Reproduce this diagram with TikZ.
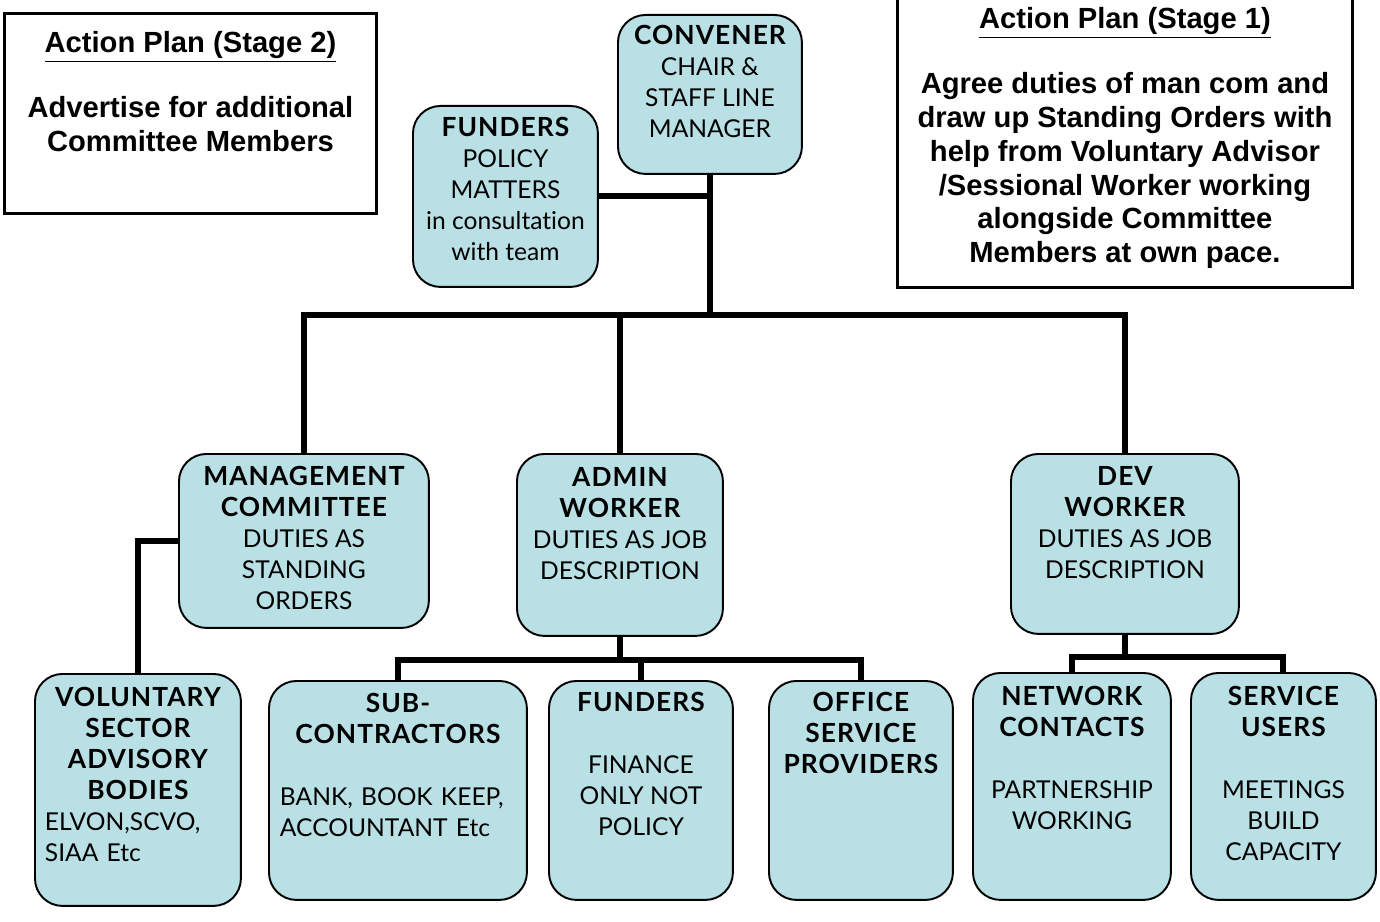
\documentclass[tikz,border=0pt]{standalone}
\usepackage{fontspec}
\setmainfont{Lato}[Ligatures=NoCommon]
\newfontfamily\headfont{Lato}[LetterSpace=4]
\newfontfamily\planfont{Liberation Sans}
\newcommand{\hd}[1]{{\headfont\bfseries\fontsize{15}{17.6}\selectfont #1}}
\newcommand{\lft}[1]{\makebox[\linewidth][l]{#1}}
\usetikzlibrary{positioning}
\definecolor{boxfill}{RGB}{185,224,228}

\begin{document}
\begin{tikzpicture}[x=0.02cm, y=-0.02cm,
		link/.style={line width=3.4pt},
		unit/.style={draw, line width=1.1pt, fill=boxfill, rounded corners=0.55cm, anchor=north west, inner sep=0pt},
		plan/.style={draw, line width=1.7pt, anchor=north west, inner sep=0pt},
		txt/.style={align=center, inner sep=0pt, font=\fontsize{14}{17.6}\selectfont},
		plantxt/.style={align=center, inner sep=0pt, font=\planfont\bfseries\fontsize{16.6}{19.3}\selectfont}
		]
		\useasboundingbox (0,0) rectangle (1380,922);
		
		\node[plan, minimum width=7.44cm, minimum height=4cm] (stage2) at (3,12) {};
		\node[plantxt, below=0.38cm of stage2.north] (stage2-t) {\underline{Action Plan (Stage 2)}\\[17.6pt]Advertise for additional\\Committee Members};
		\node[plan, minimum width=9.1cm, minimum height=5.92cm] (stage1) at (896,-10) {};
		\node[plantxt, below=0.34cm of stage1.north] (stage1-t) {\underline{Action Plan (Stage 1)}\\[17.6pt]Agree duties of man com and\\draw up Standing Orders with\\help from Voluntary Advisor\\/Sessional Worker working\\alongside Committee\\Members at own pace.};
		
		\node[unit, minimum width=3.68cm, minimum height=3.18cm] (conv) at (617,14) {};
		\node[txt, below=0.22cm of conv.north] (conv-t) {\hd{CONVENER}\\CHAIR \&\\STAFF LINE\\MANAGER};
		\node[unit, minimum width=3.7cm, minimum height=3.62cm] (fundtop) at (412,105) {};
		\node[txt, below=0.24cm of fundtop.north] (fundtop-t) {\hd{FUNDERS}\\POLICY\\MATTERS\\in consultation\\with team};
		
		\node[unit, minimum width=5cm, minimum height=3.48cm] (mgmt) at (178,453) {};
		\node[txt, below=0.26cm of mgmt.north] (mgmt-t) {\hd{MANAGEMENT}\\\hd{COMMITTEE}\\DUTIES AS\\STANDING\\ORDERS};
		\node[unit, minimum width=4.12cm, minimum height=3.64cm] (admin) at (516,453) {};
		\node[txt, below=0.28cm of admin.north] (admin-t) {\hd{ADMIN}\\\hd{WORKER}\\DUTIES AS JOB\\DESCRIPTION};
		\node[unit, minimum width=4.56cm, minimum height=3.6cm] (dev) at (1010,453) {};
		\node[txt, below=0.26cm of dev.north] (dev-t) {\hd{DEV}\\\hd{WORKER}\\DUTIES AS JOB\\DESCRIPTION};
		
		\node[unit, minimum width=4.12cm, minimum height=4.64cm] (vol) at (34,673) {};
		\node[txt, text width=3.72cm, below=0.28cm of vol.north] (vol-t) {\hd{VOLUNTARY}\\\hd{SECTOR}\\\hd{ADVISORY}\\\hd{BODIES}\\\lft{ELVON,SCVO,}\\\lft{SIAA Etc}};
		\node[unit, minimum width=5.16cm, minimum height=4.38cm] (sub) at (268,680) {};
		\node[txt, text width=4.72cm, below=0.26cm of sub.north] (sub-t) {\hd{SUB-}\\\hd{CONTRACTORS}\\[17.6pt]\lft{BANK, BOOK KEEP,}\\\lft{ACCOUNTANT Etc}};
		\node[unit, minimum width=3.68cm, minimum height=4.38cm] (fundbot) at (548,680) {};
		\node[txt, below=0.24cm of fundbot.north] (fundbot-t) {\hd{FUNDERS}\\[17.6pt]FINANCE\\ONLY NOT\\POLICY};
		\node[unit, minimum width=3.68cm, minimum height=4.38cm] (office) at (768,680) {};
		\node[txt, below=0.24cm of office.north] (office-t) {\hd{OFFICE}\\\hd{SERVICE}\\\hd{PROVIDERS}};
		\node[unit, minimum width=3.96cm, minimum height=4.54cm] (net) at (972,672) {};
		\node[txt, below=0.28cm of net.north] (net-t) {\hd{NETWORK}\\\hd{CONTACTS}\\[17.6pt]PARTNERSHIP\\WORKING};
		\node[unit, minimum width=3.7cm, minimum height=4.54cm] (serv) at (1190,672) {};
		\node[txt, below=0.28cm of serv.north] (serv-t) {\hd{SERVICE}\\\hd{USERS}\\[17.6pt]MEETINGS\\BUILD\\CAPACITY};
		
		\draw[link] (conv.south) -- ++(0,140) coordinate (hub);
		\draw[link] (fundtop.east) -- (fundtop.east -| conv.south);
		\draw[link] (mgmt.north) |- (hub) -| (dev.north);
		\draw[link] (hub) -| (admin.north);
		\draw[link] (mgmt.west) -| (vol.north);
		\draw[link] (admin.south) -- ++(0,23) coordinate (abus);
		\draw[link] (sub.north) |- (abus) -| (office.north);
		\draw[link] (abus) -| (fundbot.north);
		\draw[link] (dev.south) -- ++(0,22) coordinate (dbus);
		\draw[link] (net.north) |- (dbus) -| (serv.north);
\end{tikzpicture}
\end{document}
